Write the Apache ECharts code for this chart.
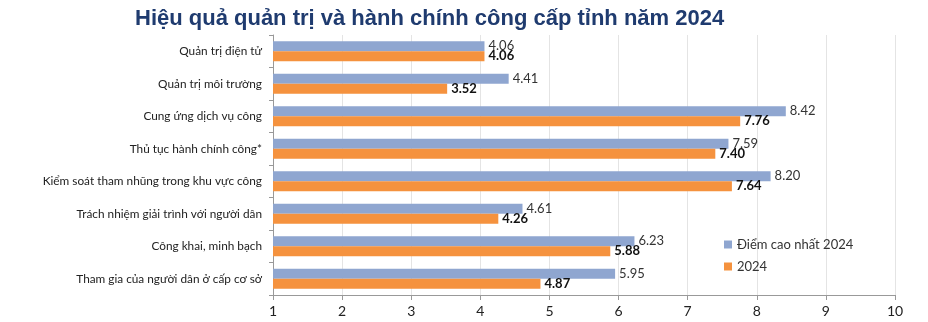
<!DOCTYPE html>
<html><head><meta charset="utf-8">
<script src="https://cdn.jsdelivr.net/npm/echarts@6/dist/echarts.min.js"></script>
<style>html,body{margin:0;padding:0;background:#fff}#c{width:928px;height:322px}</style>
</head><body><div id="c"></div>
<script>
var categories = ["Quản trị điện tử","Quản trị môi trường","Cung ứng dịch vụ công","Thủ tục hành chính công*","Kiểm soát tham nhũng trong khu vực công","Trách nhiệm giải trình với người dân","Công khai, minh bạch","Tham gia của người dân ở cấp cơ sở"];
var highest2024 = [4.06,4.41,8.42,7.59,8.20,4.61,6.23,5.95];
var values2024 = [4.06,3.52,7.76,7.40,7.64,4.26,5.88,4.87];
var seriesNames = ["Điểm cao nhất 2024","2024"];
var xTicks = [1,2,3,4,5,6,7,8,9,10];

var chart = echarts.init(document.getElementById('c'));
chart.setOption({
  animation:false,
  title:{text:"Hiệu quả quản trị và hành chính công cấp tỉnh năm 2024",left:130,top:3,
    textStyle:{fontFamily:"Liberation Sans, Arial",fontWeight:"bold",fontSize:22,color:"#1F3B6F"}},
  legend:{orient:"vertical",left:719,top:233,itemWidth:8,itemHeight:8,itemGap:9,icon:"rect",
    textStyle:{fontFamily:"Lato, Liberation Sans",fontSize:13,color:"#333"},data:seriesNames},
  grid:{left:273,right:33,top:35,bottom:27,containLabel:false},
  xAxis:{type:"value",min:xTicks[0],max:xTicks[xTicks.length-1],interval:1,
    axisLine:{show:true,lineStyle:{color:"#999"}},axisTick:{show:true,length:5,lineStyle:{color:"#999"}},
    splitLine:{show:true,lineStyle:{color:"#e4e4e4"}},
    axisLabel:{fontFamily:"Lato, Liberation Sans",fontSize:14,color:"#222",margin:9}},
  yAxis:{type:"category",inverse:true,data:categories,
    axisLine:{show:true,lineStyle:{color:"#999"}},axisTick:{show:true,length:4,lineStyle:{color:"#999"}},
    axisLabel:{fontFamily:"Lato, Liberation Sans",fontSize:11.8,color:"#222",margin:11}},
  series:[
    {name:seriesNames[0],type:"bar",data:highest2024,barWidth:10,barGap:"0%",
      itemStyle:{color:"#8FA6D0"},
      label:{show:true,position:"right",distance:4,formatter:function(p){return p.value.toFixed(2);},
        fontFamily:"Lato, Liberation Sans",fontSize:13,color:"#333"}},
    {name:seriesNames[1],type:"bar",data:values2024,barWidth:10,
      itemStyle:{color:"#F5923E"},
      label:{show:true,position:"right",distance:4,formatter:function(p){return p.value.toFixed(2);},
        fontFamily:"Lato, Liberation Sans",fontSize:13,fontWeight:"bold",color:"#111"}}
  ]
});
</script></body></html>
